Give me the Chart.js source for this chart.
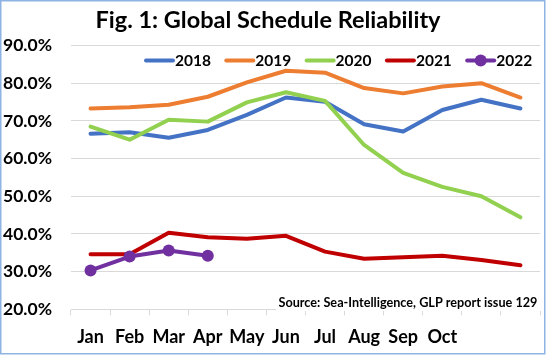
<!DOCTYPE html>
<html>
<head>
<meta charset="utf-8">
<script src="https://cdn.jsdelivr.net/npm/chart.js@4.4.0/dist/chart.umd.min.js"></script>
<style>
html,body{margin:0;padding:0;background:#fff;}
#wrap{position:relative;width:546px;height:355px;}
</style>
</head>
<body>
<div id="wrap"><canvas id="c" width="546" height="355"></canvas></div>
<script>
const titleText = 'Fig. 1: Global Schedule Reliability';
const sourceText = 'Source: Sea-Intelligence, GLP report issue 129';
const categories = ['Jan','Feb','Mar','Apr','May','Jun','Jul','Aug','Sep','Oct','Nov','Dec'];
const xTickLabels = ['Jan','Feb','Mar','Apr','May','Jun','Jul','Aug','Sep','Oct','',''];
const seriesNames = ['2018','2019','2020','2021','2022'];
const s2018 = [66.6, 67.0, 65.5, 67.6, 71.6, 76.2, 75.1, 69.1, 67.2, 72.9, 75.6, 73.3];
const s2019 = [73.3, 73.6, 74.3, 76.4, 80.2, 83.3, 82.8, 78.7, 77.3, 79.1, 80.0, 76.2];
const s2020 = [68.5, 65.0, 70.3, 69.8, 74.9, 77.6, 75.3, 63.6, 56.2, 52.5, 50.0, 44.4];
const s2021 = [34.6, 34.6, 40.3, 39.1, 38.7, 39.5, 35.3, 33.4, 33.8, 34.2, 33.1, 31.7];
const s2022 = [30.3, 34.0, 35.6, 34.2];
const yMin = 20, yMax = 90, yStep = 10;

const colors = ['#4472C4','#ED7D31','#92D050','#C00000','#7030A0'];
const values = [s2018, s2019, s2020, s2021, s2022];
const FONT = 'Lato, "Open Sans", sans-serif';

const datasets = values.map((v, i) => ({
  label: seriesNames[i],
  data: v,
  borderColor: colors[i],
  backgroundColor: colors[i],
  borderWidth: 4,
  tension: 0,
  borderJoinStyle: 'round',
  borderCapStyle: 'round',
  pointRadius: i === 4 ? 6 : 0,
  pointHoverRadius: i === 4 ? 6 : 0,
  pointBorderWidth: 0,
  order: 5 - i,
  fill: false
}));

const decor = {
  id: 'decor',
  afterDraw(chart) {
    const ctx = chart.ctx;
    ctx.save();
    // title
    ctx.fillStyle = '#000';
    ctx.font = 'bold 23.5px ' + FONT;
    ctx.textAlign = 'center';
    ctx.textBaseline = 'alphabetic';
    ctx.fillText(titleText, 268, 28);
    // legend
    ctx.font = 'bold 15.5px ' + FONT;
    ctx.textAlign = 'left';
    ctx.textBaseline = 'middle';
    const ly = 60.5;
    chart.data.datasets.forEach((ds, i) => {
      const x0 = 146 + i * 80.3;
      ctx.strokeStyle = ds.borderColor;
      ctx.lineWidth = 4;
      ctx.lineCap = 'round';
      ctx.beginPath();
      ctx.moveTo(x0, ly);
      ctx.lineTo(x0 + 27, ly);
      ctx.stroke();
      if (ds.pointRadius > 0) {
        ctx.fillStyle = ds.backgroundColor;
        ctx.beginPath();
        ctx.arc(x0 + 13.5, ly, 6, 0, Math.PI * 2);
        ctx.fill();
      }
      ctx.fillStyle = '#000';
      ctx.fillText(ds.label, x0 + 29, ly + 0.5);
    });
    // source box
    ctx.font = 'bold 13px ' + FONT;
    const mw = ctx.measureText(sourceText).width;
    const fs = Math.min(13.5, 13 * 259 / mw);
    ctx.font = 'bold ' + fs.toFixed(2) + 'px ' + FONT;
    ctx.fillStyle = '#fff';
    ctx.fillRect(276, 294, 265, 17);
    ctx.fillStyle = '#000';
    ctx.textAlign = 'left';
    ctx.fillText(sourceText, 278.5, 302.5);
    // border
    ctx.strokeStyle = '#8EB4E3';
    ctx.lineWidth = 1.5;
    ctx.strokeRect(0.75, 0.75, 544, 353);
    ctx.restore();
  }
};

new Chart(document.getElementById('c'), {
  type: 'line',
  data: { labels: categories, datasets },
  options: {
    responsive: false,
    animation: false,
    layout: { padding: { top: 45.5, right: 0, bottom: 0, left: 0 } },
    plugins: { legend: { display: false }, title: { display: false }, tooltip: { enabled: false } },
    scales: {
      x: {
        offset: true,
        afterFit(s) { s.height = 45.7; },
        grid: { offset: true, drawOnChartArea: false, drawTicks: true, tickLength: 6, color: '#D9D9D9', lineWidth: 1 },
        border: { color: '#D9D9D9', width: 1 },
        ticks: {
          autoSkip: false, maxRotation: 0, padding: 11,
          color: '#000',
          font: { family: FONT, size: 18, weight: 'bold' },
          callback: (v, i) => xTickLabels[i] || ''
        }
      },
      y: {
        min: yMin, max: yMax,
        afterFit(s) { s.width = 71; },
        grid: { color: '#D9D9D9', drawTicks: false, lineWidth: 1 },
        border: { display: false },
        ticks: {
          stepSize: yStep, padding: 19,
          color: '#000',
          font: { family: FONT, size: 17.5, weight: 'bold' },
          callback: v => v.toFixed(1) + '%'
        }
      }
    }
  },
  plugins: [decor]
});
</script>
</body>
</html>
